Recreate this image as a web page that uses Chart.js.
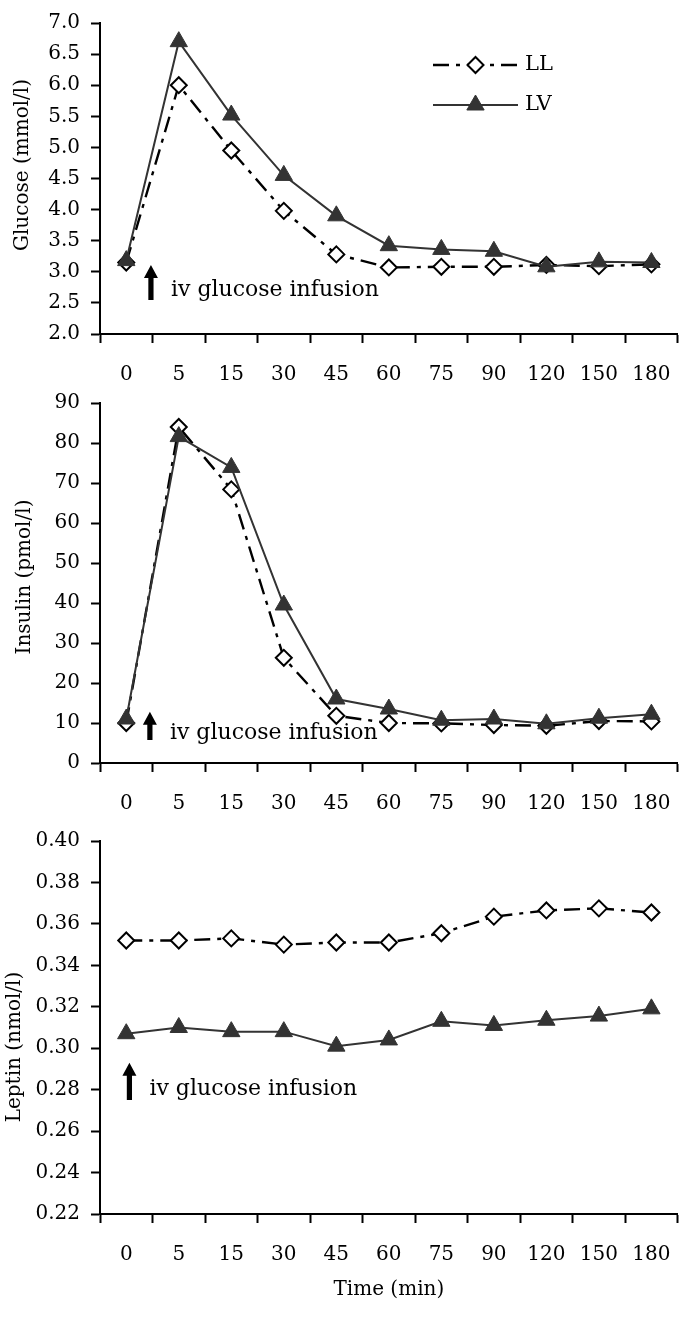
<!DOCTYPE html>
<html><head><meta charset="utf-8">
<script src="https://cdn.jsdelivr.net/npm/chart.js@4.4.1/dist/chart.umd.min.js"></script>
<style>
html,body{margin:0;padding:0;background:#fff;overflow:hidden;width:691px;height:1320px;}
canvas{position:absolute;left:0;}
</style></head><body>
<canvas id="c1" width="691" height="400" style="top:0px;width:691px;height:400px"></canvas>
<canvas id="c2" width="691" height="449" style="top:380px;width:691px;height:449px"></canvas>
<canvas id="c3" width="691" height="502" style="top:818px;width:691px;height:502px"></canvas>
<script>
// ---------- data ----------
const categories = ['0','5','15','30','45','60','75','90','120','150','180'];
const seriesNames = ['LL','LV'];
const glucoseLL = [3.15, 6.00, 4.95, 3.98, 3.28, 3.07, 3.08, 3.08, 3.11, 3.09, 3.12];
const glucoseLV = [3.18, 6.70, 5.52, 4.55, 3.90, 3.42, 3.36, 3.33, 3.08, 3.16, 3.15];
const insulinLL = [10.0, 84.0, 68.4, 26.3, 11.8, 10.0, 9.9, 9.5, 9.3, 10.5, 10.4];
const insulinLV = [11.0, 81.6, 73.9, 39.5, 16.0, 13.5, 10.7, 11.0, 9.8, 11.2, 12.2];
const leptinLL = [0.352, 0.352, 0.353, 0.350, 0.351, 0.351, 0.3555, 0.3635, 0.3665, 0.3675, 0.3655];
const leptinLV = [0.307, 0.310, 0.308, 0.308, 0.301, 0.304, 0.313, 0.311, 0.3135, 0.3155, 0.319];
const glucoseTicks = [2.0, 2.5, 3.0, 3.5, 4.0, 4.5, 5.0, 5.5, 6.0, 6.5, 7.0];
const insulinTicks = [0, 10, 20, 30, 40, 50, 60, 70, 80, 90];
const leptinTicks = [0.22, 0.24, 0.26, 0.28, 0.30, 0.32, 0.34, 0.36, 0.38, 0.40];
const annotationText = 'iv glucose infusion';
const xTitle = 'Time (min)';

// ---------- styling ----------
const FONT = '"DejaVu Serif", "Liberation Serif", serif';
Chart.defaults.font.family = FONT;
Chart.defaults.color = '#000';

function llStyle(data){
  return {label: seriesNames[0], data, order: 1, borderColor: '#000', borderWidth: 2.4,
    borderDash: [16, 7, 4, 7], pointStyle: 'rectRot', pointRadius: 8, pointHoverRadius: 8,
    pointBackgroundColor: '#fff', pointBorderColor: '#000', pointBorderWidth: 2, tension: 0, fill: false};
}
function lvStyle(data){
  return {label: seriesNames[1], data, order: 0, borderColor: '#333', borderWidth: 2,
    pointStyle: 'triangle', pointRadius: 10, pointHoverRadius: 10,
    pointBackgroundColor: '#333', pointBorderColor: '#333', pointBorderWidth: 1, tension: 0, fill: false};
}

const annotPlugin = {
  id: 'annot',
  afterDatasetsDraw(chart, args, o) {
    const ctx = chart.ctx, xs = chart.scales.x, ys = chart.scales.y;
    if (o.arrow) {
      const a = o.arrow;
      const x = xs.getPixelForValue(a.x);
      const yT = ys.getPixelForValue(a.tip), yB = ys.getPixelForValue(a.base);
      const hl = 13, hw = 7, sw = 2.6;
      ctx.save();
      ctx.fillStyle = '#000';
      ctx.beginPath();
      ctx.moveTo(x - sw, yB); ctx.lineTo(x - sw, yT + hl); ctx.lineTo(x - hw, yT + hl);
      ctx.lineTo(x, yT); ctx.lineTo(x + hw, yT + hl); ctx.lineTo(x + sw, yT + hl);
      ctx.lineTo(x + sw, yB); ctx.closePath(); ctx.fill();
      ctx.font = '22px ' + FONT;
      ctx.textBaseline = 'middle'; ctx.textAlign = 'left';
      ctx.fillText(annotationText, x + 20, ys.getPixelForValue(a.text));
      ctx.restore();
    }
  },
  afterDraw(chart, args, o) {
    const ctx = chart.ctx;
    if (o.yTitle) {
      ctx.save();
      ctx.font = '20px ' + FONT; ctx.fillStyle = '#000';
      ctx.textAlign = 'center'; ctx.textBaseline = 'middle';
      ctx.translate(o.yTitle.x, o.yTitle.y); ctx.rotate(-Math.PI / 2);
      ctx.fillText(o.yTitle.text, 0, 0);
      ctx.restore();
    }
    if (o.legend) {
      const L = o.legend;
      chart.data.datasets.forEach((ds, i) => {
        const y = L.y + i * L.dy;
        ctx.save();
        ctx.strokeStyle = ds.borderColor; ctx.lineWidth = ds.borderWidth;
        ctx.setLineDash(ds.borderDash || []);
        ctx.beginPath(); ctx.moveTo(L.x0, y); ctx.lineTo(L.x1, y); ctx.stroke();
        ctx.setLineDash([]);
        ctx.fillStyle = ds.pointBackgroundColor; ctx.strokeStyle = ds.pointBorderColor;
        ctx.lineWidth = ds.pointBorderWidth;
        Chart.helpers.drawPoint(ctx, {pointStyle: ds.pointStyle, radius: ds.pointRadius, rotation: 0, borderWidth: ds.pointBorderWidth}, (L.x0 + L.x1) / 2, y);
        ctx.font = '21px ' + FONT; ctx.fillStyle = '#000';
        ctx.textAlign = 'left'; ctx.textBaseline = 'middle';
        ctx.fillText(ds.label, L.x1 + 7, y);
        ctx.restore();
      });
    }
  }
};

function makeChart(id, cfg) {
  const yTicks = cfg.yTicks;
  return new Chart(document.getElementById(id), {
    type: 'line',
    data: {labels: categories, datasets: [llStyle(cfg.ll), lvStyle(cfg.lv)]},
    options: {
      responsive: false, animation: false, devicePixelRatio: 1,
      layout: {padding: {top: cfg.padTop, right: 1, left: 0, bottom: 0}},
      plugins: {legend: {display: false}, tooltip: {enabled: false}, annot: cfg.annot},
      scales: {
        x: {
          type: 'category', offset: true,
          grid: {offset: true, drawOnChartArea: false, drawTicks: true, tickLength: 9, tickWidth: 2, tickColor: '#000'},
          border: {display: true, color: '#000', width: 2},
          ticks: {font: {size: 20}, padding: 20, color: '#000', maxRotation: 0, autoSkip: false},
          title: cfg.xTitle ? {display: true, text: xTitle, font: {size: 20}, padding: {top: 0, bottom: 18}, color: '#000'} : {display: false},
          afterFit: s => { s.height = cfg.xHeight; }
        },
        y: {
          min: yTicks[0], max: yTicks[yTicks.length - 1],
          grid: {drawOnChartArea: false, drawTicks: true, tickLength: 9, tickWidth: 2, tickColor: '#000'},
          border: {display: true, color: '#000', width: 2},
          ticks: {font: {size: 20}, padding: 11, color: '#000', callback: v => Number(v).toFixed(cfg.dec)},
          afterBuildTicks: s => { s.ticks = yTicks.map(v => ({value: v})); },
          afterFit: s => { s.width = 100; }
        }
      }
    },
    plugins: [annotPlugin]
  });
}

makeChart('c1', {ll: glucoseLL, lv: glucoseLV, yTicks: glucoseTicks, dec: 1, padTop: 23, xHeight: 66,
  annot: {arrow: {x: 0.47, tip: 3.11, base: 2.545, text: 2.71},
          yTitle: {text: 'Glucose (mmol/l)', x: 23, y: 165},
          legend: {x0: 433, x1: 518, y: 65, dy: 40}}});
makeChart('c2', {ll: insulinLL, lv: insulinLV, yTicks: insulinTicks, dec: 0, padTop: 22.7, xHeight: 66,
  annot: {arrow: {x: 0.45, tip: 12.8, base: 5.75, text: 7.5},
          yTitle: {text: 'Insulin (pmol/l)', x: 25, y: 197}}});
makeChart('c3', {ll: leptinLL, lv: leptinLV, yTicks: leptinTicks, dec: 2, padTop: 23, xHeight: 106, xTitle: true,
  annot: {arrow: {x: 0.06, tip: 0.293, base: 0.275, text: 0.28},
          yTitle: {text: 'Leptin (nmol/l)', x: 15, y: 229}}});
</script>
</body></html>
